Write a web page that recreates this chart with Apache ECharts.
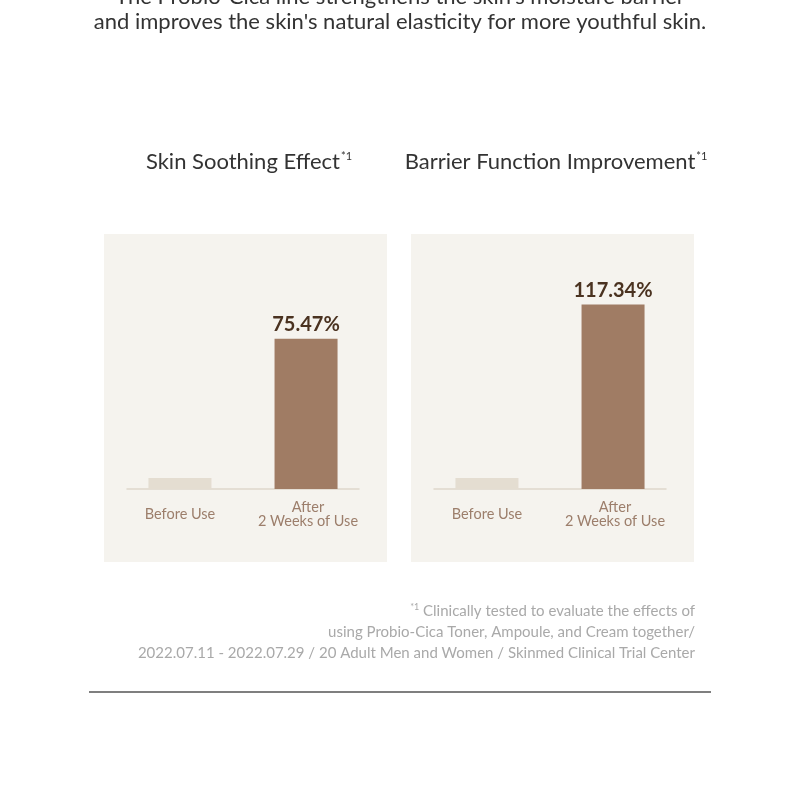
<!DOCTYPE html>
<html>
<head>
<meta charset="utf-8">
<script src="https://cdn.jsdelivr.net/npm/echarts@6/dist/echarts.min.js"></script>
<style>
  html, body { margin: 0; padding: 0; background: #fff; }
  #chart { width: 800px; height: 800px; }
</style>
</head>
<body>
<div id="chart"></div>
<script>
const categories = ['Before Use', 'After\n2 Weeks of Use'];
const chartTitles = ['Skin Soothing Effect', 'Barrier Function Improvement'];
const beforeValues = [5.5, 7];
const afterValues = [75.47, 117.34];
const axisMax = [120, 152];

const introLines = [
  "The Probio-Cica line strengthens the skin's moisture barrier",
  "and improves the skin's natural elasticity for more youthful skin."
];
const footnoteLines = [
  '{s|*1} Clinically tested to evaluate the effects of',
  'using Probio-Cica Toner, Ampoule, and Cream together/',
  '2022.07.11 - 2022.07.29 / 20 Adult Men and Women / Skinmed Clinical Trial Center'
];

const FONT = 'Lato, "Noto Sans", sans-serif';
const panelX = [104, 411];
const gridLeft = [127, 434];
const titleX = [249, 556];

let chart = echarts.init(document.getElementById('chart'));

let grids = [], xAxes = [], yAxes = [], series = [], graphics = [];

// labels sit under the bars, which are pushed apart from the band centres
function catLabel(value, index) {
  let tag = index === 0 ? 'a' : 'b';
  return value.split('\n').map(s => '{' + tag + '|' + s + '}').join('\n');
}

for (let i = 0; i < 2; i++) {
  grids.push({ left: gridLeft[i], width: 232, top: 250, bottom: 311 });
  xAxes.push({
    type: 'category',
    gridIndex: i,
    data: categories,
    axisTick: { show: false },
    axisLine: { lineStyle: { color: '#DED7CB', width: 1.5 } },
    axisLabel: {
      interval: 0,
      verticalAlign: 'middle',
      margin: 25,
      formatter: catLabel,
      rich: {
        a: { color: '#9C7E6B', fontSize: 14.5, lineHeight: 14, fontFamily: FONT, padding: [0, 10, 0, 0] },
        b: { color: '#9C7E6B', fontSize: 14.5, lineHeight: 14, fontFamily: FONT, padding: [0, 0, 0, 14] }
      }
    }
  });
  yAxes.push({
    type: 'value',
    gridIndex: i,
    min: 0,
    max: axisMax[i],
    show: false,
    splitLine: { show: false }
  });
  series.push({
    name: 'Before',
    type: 'bar',
    xAxisIndex: i,
    yAxisIndex: i,
    barWidth: 63,
    barGap: '-84%',
    itemStyle: { color: '#E4DDD1' },
    data: [beforeValues[i], null]
  });
  series.push({
    name: 'After',
    type: 'bar',
    xAxisIndex: i,
    yAxisIndex: i,
    barWidth: 63,
    barGap: '-84%',
    itemStyle: { color: '#A07C64' },
    label: {
      show: true,
      position: 'top',
      distance: 4,
      formatter: '{c}%',
      color: '#4A3220',
      fontSize: 20,
      fontWeight: 'bold',
      fontFamily: FONT
    },
    data: [null, afterValues[i]]
  });

  graphics.push({
    type: 'rect',
    shape: { x: panelX[i], y: 234, width: 283, height: 328 },
    style: { fill: '#F5F3EE' },
    z: -10
  });
  graphics.push({
    type: 'text',
    x: titleX[i],
    y: 162,
    style: {
      text: '{t|' + chartTitles[i] + '}{s|*1}',
      align: 'center',
      verticalAlign: 'middle',
      rich: {
        t: { fontSize: 22, fill: '#333', fontFamily: FONT },
        s: { fontSize: 11, fill: '#333', fontFamily: FONT, verticalAlign: 'top', padding: [0, 0, 9, 1] }
      }
    }
  });
}

introLines.forEach((line, k) => {
  graphics.push({
    type: 'text',
    x: 400,
    y: -3 + k * 25,
    style: {
      text: line,
      align: 'center',
      verticalAlign: 'middle',
      fontSize: 22,
      fill: '#333',
      fontFamily: FONT
    }
  });
});

footnoteLines.forEach((line, k) => {
  graphics.push({
    type: 'text',
    x: 695,
    y: 611 + k * 21,
    style: {
      text: line,
      align: 'right',
      verticalAlign: 'middle',
      fontSize: 15,
      fill: '#A9A9A9',
      fontFamily: FONT,
      rich: {
        s: { fontSize: 9, fill: '#A9A9A9', fontFamily: FONT, verticalAlign: 'top', padding: [0, 0, 7, 0] }
      }
    }
  });
});

graphics.push({
  type: 'line',
  shape: { x1: 89, y1: 692, x2: 711, y2: 692 },
  style: { stroke: '#555', lineWidth: 1.5 }
});

chart.setOption({
  animation: false,
  backgroundColor: '#fff',
  graphic: graphics,
  grid: grids,
  xAxis: xAxes,
  yAxis: yAxes,
  series: series
});
</script>
</body>
</html>
